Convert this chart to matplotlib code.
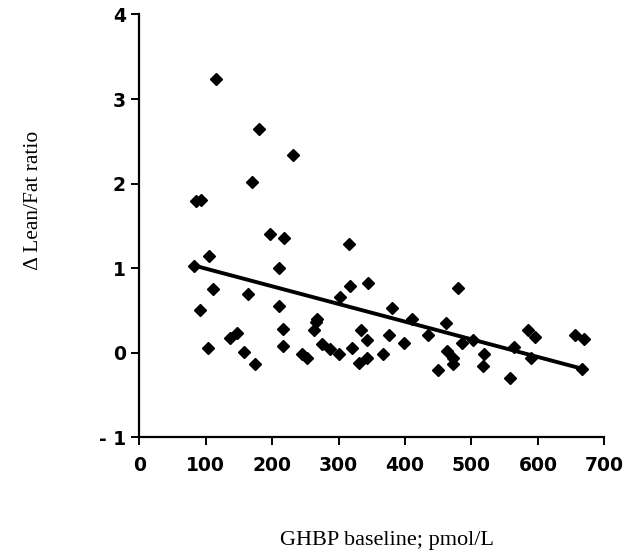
import matplotlib
matplotlib.use("Agg")
import matplotlib.pyplot as plt

# GHBP baseline (pmol/L) vs change in lean/fat ratio
ghbp = [86, 93, 83, 91, 103, 105, 111, 116, 137, 147, 158, 164, 170, 174, 180,
        196, 210, 211, 217, 217, 218, 231, 245, 252, 263, 266, 267, 275, 287,
        301, 302, 315, 317, 320, 333, 331, 343, 343, 344, 367, 376, 381, 399,
        411, 435, 450, 462, 463, 472, 472, 479, 486, 502, 517, 519, 558, 564,
        585, 590, 596, 656, 667, 669]
delta_ratio = [1.80, 1.81, 1.03, 0.51, 0.06, 1.14, 0.75, 3.24, 0.17, 0.23, 0.01,
               0.69, 2.02, -0.13, 2.64, 1.40, 0.55, 1.00, 0.28, 0.08, 1.36, 2.34,
               -0.02, -0.06, 0.27, 0.36, 0.40, 0.10, 0.05, -0.01, 0.66, 1.28,
               0.79, 0.06, 0.27, -0.12, 0.15, -0.06, 0.83, -0.01, 0.21, 0.53,
               0.12, 0.40, 0.21, -0.20, 0.35, 0.02, -0.06, -0.13, 0.77, 0.12,
               0.15, -0.16, -0.02, -0.30, 0.07, 0.27, -0.06, 0.19, 0.21, -0.19,
               0.16]

# regression line end points
fit_x = [83, 667]
fit_y = [1.03, -0.19]

xticks = [0, 100, 200, 300, 400, 500, 600, 700]
yticks = [-1, 0, 1, 2, 3, 4]
ytick_labels = ["- 1", "0", "1", "2", "3", "4"]

fig = plt.figure(figsize=(6.38, 5.53), dpi=100)
ax = fig.add_axes([0.2184, 0.2092, 0.7288, 0.7647])

ax.plot(ghbp, delta_ratio, linestyle="none", marker="D", markersize=5.8,
        color="black", markeredgewidth=1.0)
ax.plot(fit_x, fit_y, color="black", linewidth=2.8, solid_capstyle="round")

ax.set_xlim(0, 700)
ax.set_ylim(-1, 4)
ax.set_xticks(xticks)
ax.set_yticks(yticks)
ax.set_yticklabels(ytick_labels)

for side in ["top", "right"]:
    ax.spines[side].set_visible(False)
for side in ["left", "bottom"]:
    ax.spines[side].set_linewidth(1.6)

ax.tick_params(direction="out", length=5.8, width=1.4, labelsize=13.5)
ax.tick_params(axis="x", pad=8)
ax.tick_params(axis="y", pad=4)
for lbl in ax.get_xticklabels() + ax.get_yticklabels():
    lbl.set_fontfamily("DejaVu Sans")
    lbl.set_fontweight("bold")

fig.text(0.052, 0.638, "\u0394 Lean/Fat ratio", rotation=90, ha="center",
         va="center", fontsize=15.5, family="Liberation Serif")
fig.text(0.607, 0.023, "GHBP baseline; pmol/L", ha="center", va="center",
         fontsize=16, family="Liberation Serif")

fig.savefig("out.png", dpi=100)
